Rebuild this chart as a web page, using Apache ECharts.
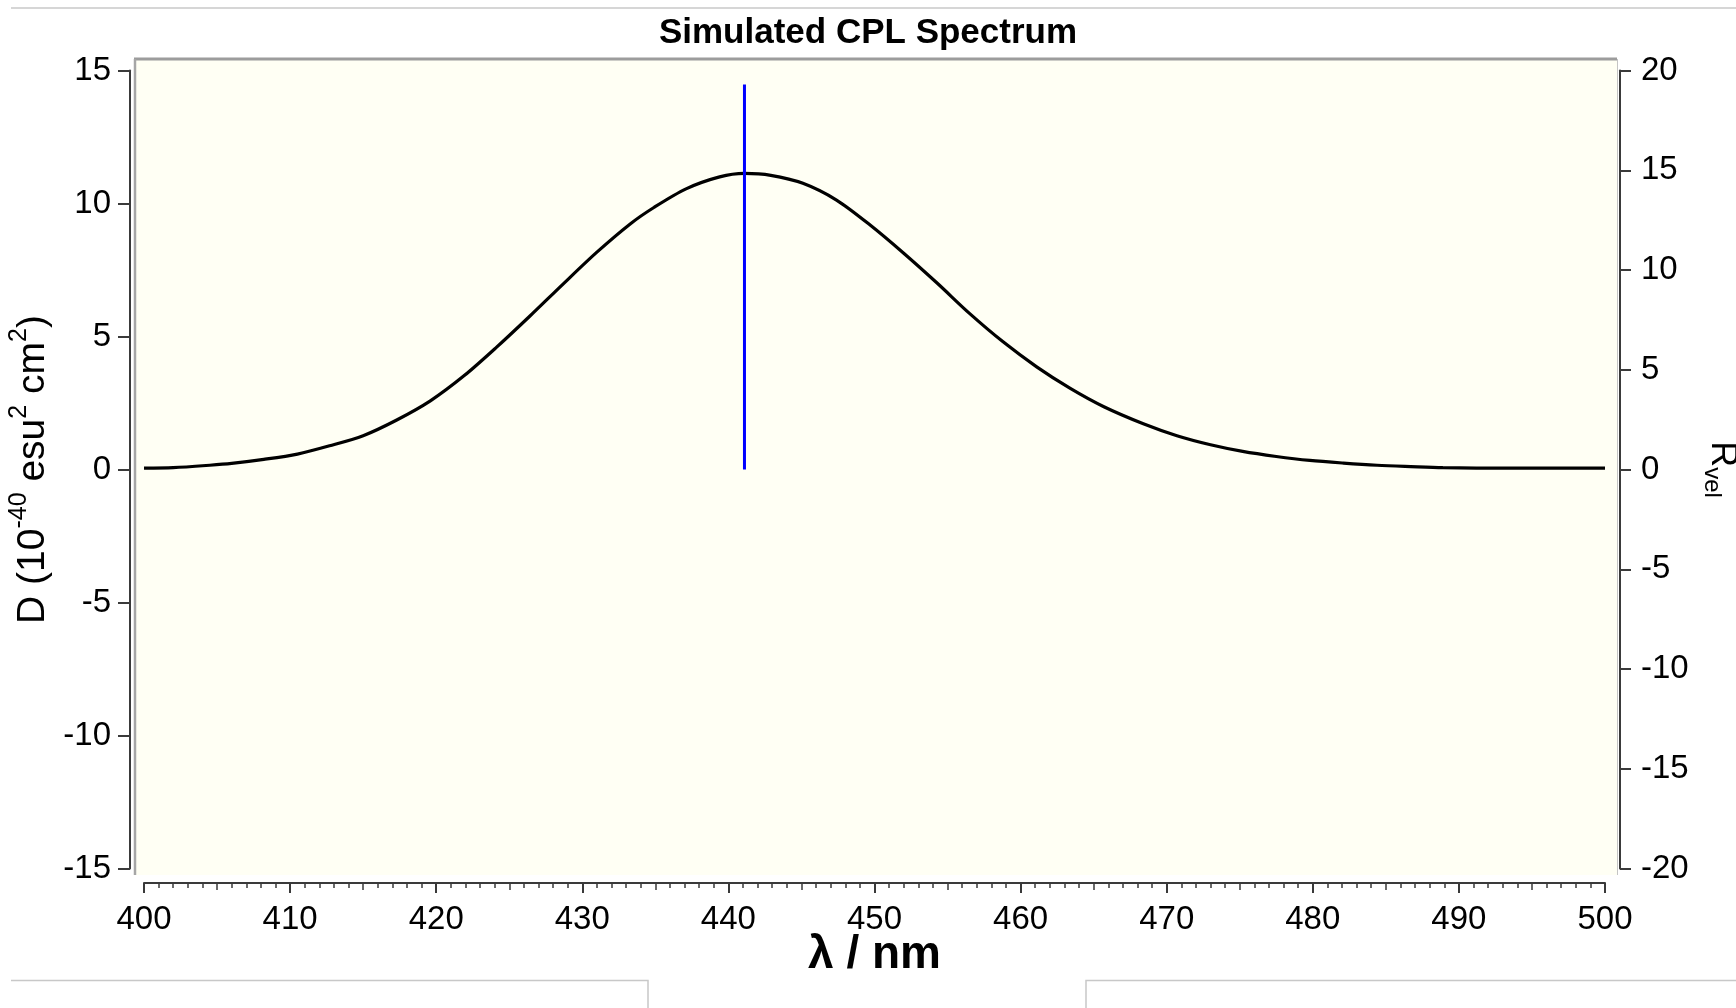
<!DOCTYPE html>
<html>
<head>
<meta charset="utf-8">
<title>Simulated CPL Spectrum</title>
<script src="https://cdn.jsdelivr.net/npm/echarts@6/dist/echarts.min.js"></script>
<style>
  html, body { margin: 0; padding: 0; background: #ffffff; overflow: hidden; }
  #chart { width: 1736px; height: 1008px; }
</style>
</head>
<body>
<div id="chart"></div>
<script>
// Broadened CPL band: wavelength (nm) and D (10^-40 esu^2 cm^2)
const wavelengths = [
  400.0, 402.0, 404.5, 406.0, 408.2, 410.5, 412.7, 415.0, 417.3, 419.6,
  421.9, 424.1, 426.4, 428.7, 431.0, 433.3, 434.9, 437.1, 439.4, 441.1,
  442.9, 445.1, 447.4, 449.7, 452.0, 454.3, 456.5, 458.8, 461.1, 463.4,
  465.7, 468.4, 470.7, 473.0, 475.2, 477.5, 479.8, 482.1, 484.4, 486.7,
  488.9, 493.5, 500.0
];
const dValues = [
  0.05, 0.07, 0.16, 0.23, 0.38, 0.58, 0.89, 1.27, 1.86, 2.58,
  3.52, 4.58, 5.76, 6.98, 8.17, 9.24, 9.85, 10.55, 11.00, 11.13,
  11.06, 10.76, 10.13, 9.19, 8.13, 7.00, 5.87, 4.80, 3.86, 3.05,
  2.36, 1.72, 1.27, 0.93, 0.68, 0.49, 0.34, 0.24, 0.16, 0.11,
  0.07, 0.05, 0.05
];

// Transition stick: wavelength (nm) and rotatory strength R_vel
const stickWavelengths = [441.1];
const stickRvel = [19.3];

// Axis ranges and tick steps
const xRange = [400, 500];
const xMajorStep = 10;
const xMidStep = 5;
const dRange = [-15, 15];
const rRange = [-20, 20];
const yStep = 5;

const FONT = 'Liberation Sans, Arial, sans-serif';
const AXIS_COLOR = '#3a3a3a';

const curveData = wavelengths.map((w, i) => [w, dValues[i]]);
const stickData = [];
stickWavelengths.forEach((w, i) => {
  stickData.push([w, 0], [w, stickRvel[i]], [w, null]);
});

const chart = echarts.init(document.getElementById('chart'), null, { renderer: 'canvas' });

chart.setOption({
  animation: false,
  backgroundColor: '#ffffff',
  title: {
    text: 'Simulated CPL Spectrum',
    left: 'center',
    top: 11,
    textStyle: { fontFamily: FONT, fontSize: 35, fontWeight: 'bold', color: '#000' }
  },
  graphic: [
    // page rules
    { type: 'line', z: -20, shape: { x1: 11, y1: 8, x2: 1736, y2: 8 },
      style: { stroke: '#c8c8c8', lineWidth: 1.5 } },
    { type: 'polyline', z: -20, shape: { points: [[11, 980.5], [648, 980.5], [648, 1008]] },
      style: { stroke: '#c8c8c8', lineWidth: 1.5, fill: null } },
    { type: 'polyline', z: -20, shape: { points: [[1086, 1008], [1086, 980.5], [1736, 980.5]] },
      style: { stroke: '#c8c8c8', lineWidth: 1.5, fill: null } },
    // plot frame
    { type: 'rect', z: -10, shape: { x: 135, y: 59, width: 1482, height: 816 },
      style: { fill: '#fffff4' } },
    { type: 'line', z: -9, shape: { x1: 134, y1: 59, x2: 1617, y2: 59 },
      style: { stroke: '#9c9c9c', lineWidth: 3 } },
    { type: 'line', z: -9, shape: { x1: 135, y1: 59, x2: 135, y2: 875 },
      style: { stroke: '#a6a6a6', lineWidth: 2.5 } },
    { type: 'line', z: -9, shape: { x1: 1617.5, y1: 59, x2: 1617.5, y2: 875 },
      style: { stroke: '#c4c4c4', lineWidth: 1 } }
  ],
  grid: {
    left: 144, right: 131, top: 70.5, bottom: 139.5,
    containLabel: false,
    outerBoundsMode: 'none'
  },
  xAxis: [
    {
      type: 'value', min: xRange[0], max: xRange[1], interval: xMajorStep,
      position: 'bottom', offset: 14.5,
      axisLine: { show: true, onZero: false, lineStyle: { color: AXIS_COLOR, width: 2 } },
      axisTick: { show: true, inside: false, length: 10, lineStyle: { color: AXIS_COLOR, width: 2 } },
      minorTick: { show: true, splitNumber: 10, length: 5, lineStyle: { color: AXIS_COLOR, width: 1.5 } },
      axisLabel: { margin: 20, fontFamily: FONT, fontSize: 33, color: '#000' },
      splitLine: { show: false },
      name: 'λ / nm', nameLocation: 'middle', nameGap: 49, nameMoveOverlap: false,
      nameTextStyle: { fontFamily: FONT, fontSize: 46, fontWeight: 'bold', color: '#000' }
    },
    {
      type: 'value', min: xRange[0], max: xRange[1], interval: xMidStep,
      position: 'bottom', offset: 14.5,
      axisLine: { show: false, onZero: false },
      axisTick: { show: true, inside: false, length: 7, lineStyle: { color: AXIS_COLOR, width: 1.5 } },
      axisLabel: { show: false },
      splitLine: { show: false }
    }
  ],
  yAxis: [
    {
      type: 'value', min: dRange[0], max: dRange[1], interval: yStep,
      position: 'left', offset: 14,
      axisLine: { show: true, onZero: false, lineStyle: { color: AXIS_COLOR, width: 2 } },
      axisTick: { show: true, inside: false, length: 12, lineStyle: { color: AXIS_COLOR, width: 2 } },
      axisLabel: { margin: 19, fontFamily: FONT, fontSize: 33, color: '#000' },
      splitLine: { show: false },
      name: '{b|D (10}{s|-40}{b| esu}{s|2}{b| cm}{s|2}{b|)}',
      nameLocation: 'middle', nameGap: 73,
      nameTextStyle: {
        color: '#000',
        rich: {
          b: { fontFamily: FONT, fontSize: 39, color: '#000', verticalAlign: 'bottom', lineHeight: 46 },
          s: { fontFamily: FONT, fontSize: 25, color: '#000', verticalAlign: 'top', lineHeight: 25 }
        }
      }
    },
    {
      type: 'value', min: rRange[0], max: rRange[1], interval: yStep,
      position: 'right', offset: 15,
      axisLine: { show: true, onZero: false, lineStyle: { color: AXIS_COLOR, width: 2 } },
      axisTick: { show: true, inside: false, length: 11, lineStyle: { color: AXIS_COLOR, width: 2 } },
      axisLabel: { margin: 21, fontFamily: FONT, fontSize: 33, color: '#000' },
      splitLine: { show: false },
      name: '{r|R}{v|vel}',
      nameLocation: 'middle', nameGap: 73, nameRotate: -90,
      nameTextStyle: {
        color: '#000',
        rich: {
          r: { fontFamily: FONT, fontSize: 36, color: '#000', verticalAlign: 'bottom', lineHeight: 40, padding: [0, 0, 4, 0] },
          v: { fontFamily: FONT, fontSize: 24, color: '#000', verticalAlign: 'bottom', lineHeight: 24 }
        }
      }
    }
  ],
  series: [
    {
      name: 'D',
      type: 'line',
      xAxisIndex: 0, yAxisIndex: 0,
      data: curveData,
      smooth: 0.3,
      showSymbol: false,
      lineStyle: { color: '#000', width: 3.2 },
      z: 3
    },
    {
      name: 'R_vel',
      type: 'line',
      xAxisIndex: 0, yAxisIndex: 1,
      data: stickData,
      connectNulls: false,
      showSymbol: false,
      lineStyle: { color: '#0000ff', width: 3 },
      z: 4
    }
  ]
});
</script>
</body>
</html>
